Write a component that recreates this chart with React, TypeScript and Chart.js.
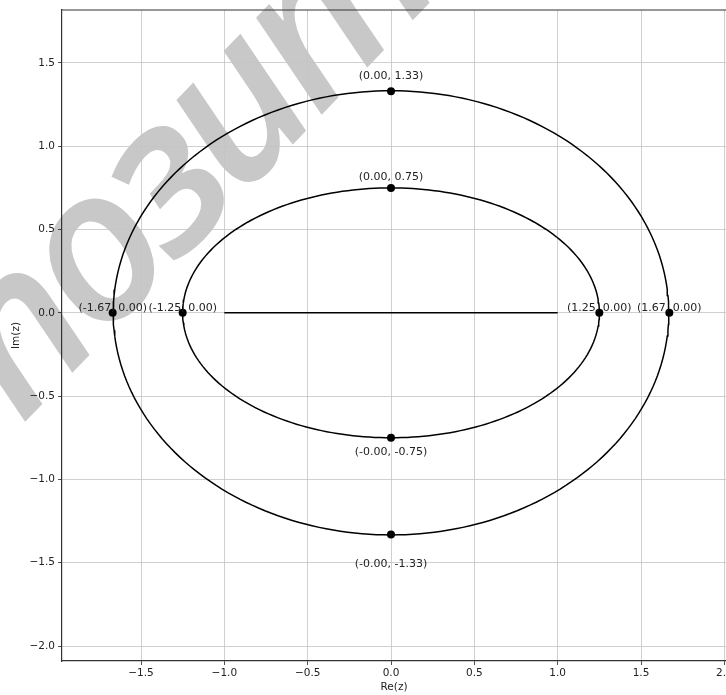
import React, { useEffect, useRef } from "react";
import { Chart, registerables } from "chart.js";

Chart.register(...registerables);

// ---- data ----
const ellipseSemiAxisX = [1.25, 1.6667];
const ellipseSemiAxisY = [0.75, 1.3333];
const segmentX = [-1.0, 1.0];
const segmentY = [0.0, 0.0];
const pointX = [0.0, 0.0, 0.0, 0.0, -1.67, -1.25, 1.25, 1.67];
const pointY = [1.33, 0.75, -0.75, -1.33, 0.0, 0.0, 0.0, 0.0];
const pointLabels = [
  "(0.00, 1.33)",
  "(0.00, 0.75)",
  "(-0.00, -0.75)",
  "(-0.00, -1.33)",
  "(-1.67, 0.00)",
  "(-1.25, 0.00)",
  "(1.25, 0.00)",
  "(1.67, 0.00)",
];
const xTicks = [-1.5, -1.0, -0.5, 0.0, 0.5, 1.0, 1.5, 2.0];
const yTicks = [-2.0, -1.5, -1.0, -0.5, 0.0, 0.5, 1.0, 1.5];
const xTitle = "Re(z)";
const yTitle = "Im(z)";
const watermarkText = "позитон";

// ---- style ----
const labelOffsetsPx = [-15, -11, 14, 30, -5, -5, -5, -5];
const FONT = "'DejaVu Sans', sans-serif";
const fmt = (v: number) => (v < 0 ? "\u2212" + Math.abs(v).toFixed(1) : v.toFixed(1));

const ellipsePoints = (a: number, b: number) => {
  const pts: { x: number; y: number }[] = [];
  const n = 240;
  for (let i = 0; i <= n; i++) {
    const t = (i / n) * Math.PI * 2;
    pts.push({ x: a * Math.cos(t), y: b * Math.sin(t) });
  }
  return pts;
};

const watermarkPlugin = {
  id: "watermark",
  beforeDraw(chart: any) {
    const ctx = chart.ctx;
    ctx.save();
    ctx.translate(22, 425);
    ctx.rotate((-46 * Math.PI) / 180);
    ctx.fillStyle = "#c8c8c8";
    ctx.font = `italic 600 212px 'Open Sans', 'DejaVu Sans', sans-serif`;
    try {
      (ctx as any).letterSpacing = "-12px";
    } catch (e) {}
    ctx.textBaseline = "alphabetic";
    ctx.textAlign = "left";
    ctx.fillText(watermarkText, 0, 0);
    ctx.restore();
  },
};

const decorPlugin = {
  id: "decor",
  afterDatasetsDraw(chart: any) {
    const ctx = chart.ctx;
    const xs = chart.scales.x;
    const ys = chart.scales.y;
    const area = chart.chartArea;
    ctx.save();
    ctx.strokeStyle = "#333";
    ctx.lineWidth = 1.2;
    ctx.beginPath();
    ctx.moveTo(area.left, area.top);
    ctx.lineTo(area.right, area.top);
    ctx.stroke();
    ctx.font = `11px ${FONT}`;
    ctx.fillStyle = "#222";
    ctx.textAlign = "center";
    ctx.textBaseline = "middle";
    pointLabels.forEach((lab, i) => {
      const px = xs.getPixelForValue(pointX[i]);
      const py = ys.getPixelForValue(pointY[i]);
      ctx.fillText(lab, px, py + labelOffsetsPx[i]);
    });
    ctx.restore();
  },
};

export default function App() {
  const ref = useRef<HTMLCanvasElement | null>(null);
  useEffect(() => {
    document.body.style.margin = "0";
    document.body.style.overflow = "hidden";
    if (!ref.current) return;
    const curveDatasets = ellipseSemiAxisX.map((a, i) => ({
      data: ellipsePoints(a, ellipseSemiAxisY[i]),
      showLine: true,
      borderColor: "#000",
      borderWidth: 1.5,
      pointRadius: 0,
      fill: false,
    }));
    const chart = new Chart(ref.current, {
      type: "scatter",
      data: {
        datasets: [
          ...curveDatasets,
          {
            data: segmentX.map((x, i) => ({ x, y: segmentY[i] })),
            showLine: true,
            borderColor: "#000",
            borderWidth: 1.5,
            pointRadius: 0,
            fill: false,
          },
          {
            data: pointX.map((x, i) => ({ x, y: pointY[i] })),
            showLine: false,
            pointRadius: 4,
            pointBackgroundColor: "#000",
            pointBorderColor: "#000",
            pointBorderWidth: 0,
          },
        ] as any,
      },
      options: {
        animation: false,
        responsive: true,
        maintainAspectRatio: false,
        layout: { autoPadding: false, padding: { left: 0, right: 0, top: 10, bottom: 0 } },
        plugins: { legend: { display: false }, tooltip: { enabled: false } },
        scales: {
          x: {
            type: "linear",
            min: -1.974,
            max: 2.01,
            afterBuildTicks: (s: any) => {
              s.ticks = xTicks.map((v) => ({ value: v }));
            },
            afterFit: (s: any) => {
              s.height = 34;
              s.paddingLeft = 0;
              s.paddingRight = 0;
            },
            grid: { color: "#c4c4c4", lineWidth: 0.8, tickColor: "#222", tickLength: 4 },
            border: { display: true, color: "#333", width: 1.2 },
            ticks: {
              font: { family: FONT, size: 10.5 },
              color: "#222",
              padding: 2,
              maxRotation: 0,
              autoSkip: false,
              callback: (v: any) => fmt(Number(v)),
            },
            title: {
              display: true,
              text: xTitle,
              font: { family: FONT, size: 10.5 },
              color: "#222",
              padding: { top: 0, bottom: 1 },
            },
          },
          y: {
            type: "linear",
            min: -2.09,
            max: 1.818,
            afterBuildTicks: (s: any) => {
              s.ticks = yTicks.map((v) => ({ value: v }));
            },
            afterFit: (s: any) => {
              s.width = 62;
              s.paddingTop = 0;
              s.paddingBottom = 0;
            },
            grid: { color: "#c4c4c4", lineWidth: 0.8, tickColor: "#222", tickLength: 4 },
            border: { display: true, color: "#333", width: 1.2 },
            ticks: {
              font: { family: FONT, size: 10.5 },
              color: "#222",
              padding: 3,
              autoSkip: false,
              callback: (v: any) => fmt(Number(v)),
            },
            title: {
              display: true,
              text: yTitle,
              font: { family: FONT, size: 10.5 },
              color: "#222",
              padding: { top: 10, bottom: 0 },
            },
          },
        },
      } as any,
      plugins: [watermarkPlugin, decorPlugin],
    });
    return () => chart.destroy();
  }, []);
  return (
    <div style={{ position: "relative", width: 726, height: 695 }}>
      <canvas ref={ref} />
    </div>
  );
}
